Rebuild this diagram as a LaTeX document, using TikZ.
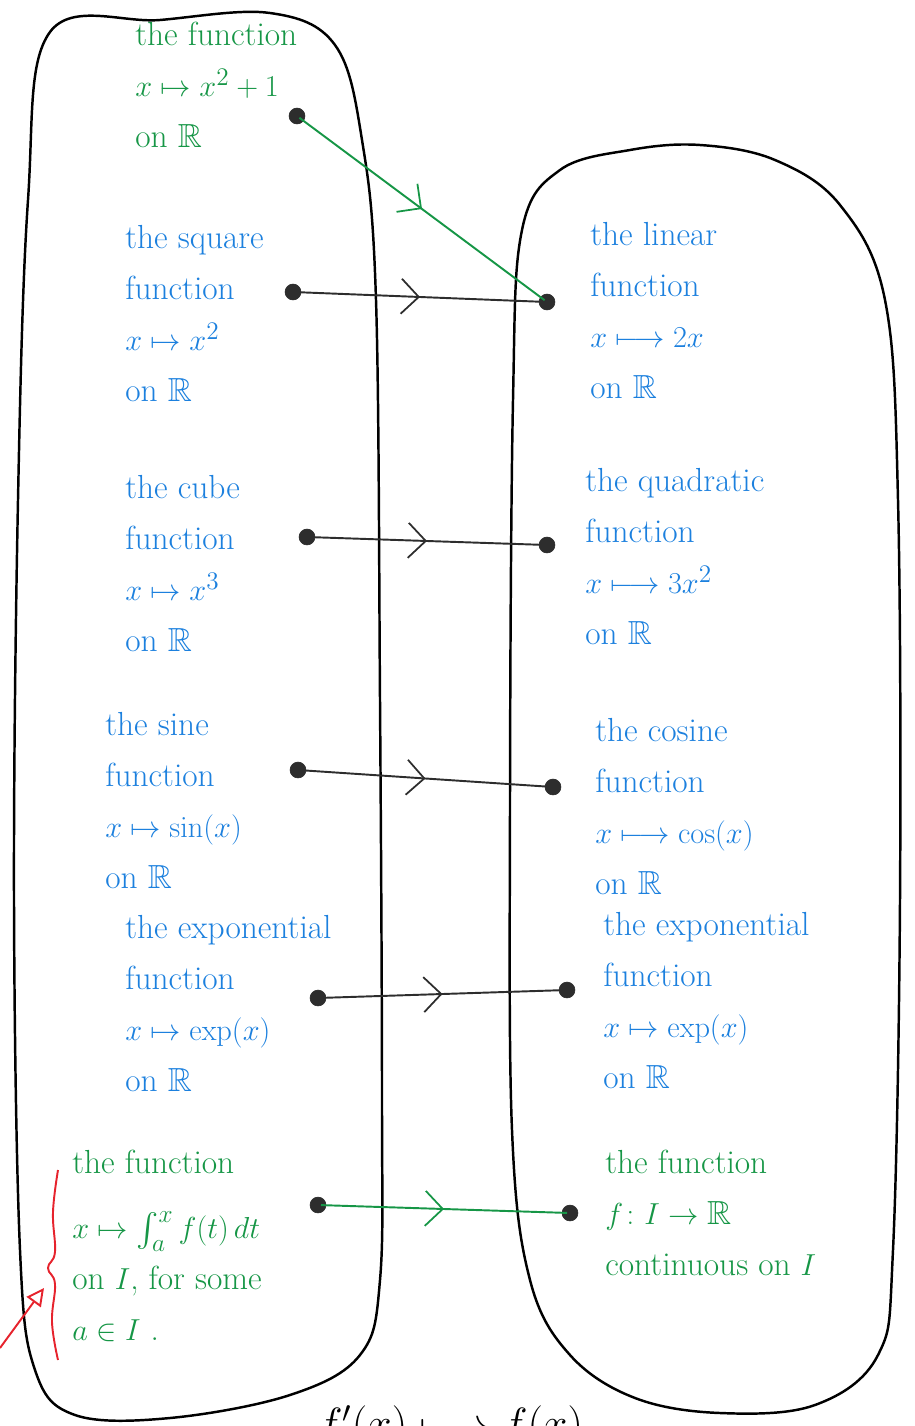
\documentclass[tikz,border=0pt]{standalone}
\usepackage{amsmath,amssymb}
\usepackage{xcolor}
\usetikzlibrary{arrows.meta,decorations.markings}

\definecolor{penGreen}{RGB}{22,150,70}
\definecolor{penBlue}{RGB}{28,128,222}
\definecolor{penRed}{RGB}{230,35,45}
\definecolor{ink}{RGB}{45,45,45}

\tikzset{
  label/.style={anchor=north west, align=left, inner sep=0pt, font=\fontsize{19}{29}\selectfont},
  inkdot/.style={circle, fill=ink, draw=ink, minimum size=9pt, inner sep=0pt},
  midarrow/.style={postaction={decorate}, decoration={markings,
      mark=at position 0.5 with {\arrow{Straight Barb[length=3.5mm,width=7mm,line width=1pt]}}}},
  link/.style={line width=1.1pt, ink, shorten <=-3pt, shorten >=-3pt, midarrow}
}

\begin{document}
\begin{tikzpicture}[x=0.02cm, y=-0.02cm]
  \useasboundingbox (0,0) rectangle (914,1426);

  % the two sets
  \draw[line width=1.4pt] plot[smooth cycle, tension=0.6] coordinates {
    (50,32) (160,20) (270,13) (335,45) (362,140) (376,300) (380,700)
    (382,1100) (380,1280) (360,1355) (290,1395) (170,1418) (75,1415)
    (35,1370) (20,1250) (14,900) (18,500) (28,200)};
  \draw[line width=1.4pt] plot[smooth cycle, tension=0.6] coordinates {
    (522,230) (560,170) (630,150) (700,145) (775,160) (840,205) (885,300) (898,500)
    (900,900) (893,1250) (878,1355) (815,1405) (720,1413) (635,1398)
    (570,1355) (530,1280) (512,1130) (510,800) (513,400)};

  % functions on the left
  \node[label, penGreen] (sqone) at (135,22) {the function\\ $x\mapsto x^2+1$\\ on $\mathbb{R}$};
  \node[label, penBlue] (sq) at (125,225) {the square\\ function\\ $x\mapsto x^2$\\ on $\mathbb{R}$};
  \node[label, penBlue] (cube) at (125,475) {the cube\\ function\\ $x\mapsto x^3$\\ on $\mathbb{R}$};
  \node[label, penBlue] (sine) at (105,712) {the sine\\ function\\ $x\mapsto \sin(x)$\\ on $\mathbb{R}$};
  \node[label, penBlue] (expL) at (125,915) {the exponential\\ function\\ $x\mapsto \exp(x)$\\ on $\mathbb{R}$};
  \node[label, penGreen] (prim) at (72,1150) {the function\\[8pt] $x\mapsto \int_a^x f(t)\,dt$\\ on $I$, for some\\ $a\in I$ .};

  % functions on the right
  \node[label, penBlue] (lin) at (590,222) {the linear\\ function\\ $x\longmapsto 2x$\\ on $\mathbb{R}$};
  \node[label, penBlue] (quad) at (585,468) {the quadratic\\ function\\ $x\longmapsto 3x^2$\\ on $\mathbb{R}$};
  \node[label, penBlue] (cosi) at (595,718) {the cosine\\ function\\ $x\longmapsto \cos(x)$\\ on $\mathbb{R}$};
  \node[label, penBlue] (expR) at (603,912) {the exponential\\ function\\ $x\mapsto \exp(x)$\\ on $\mathbb{R}$};
  \node[label, penGreen] (cont) at (605,1150) {the function\\ $f\colon I\to\mathbb{R}$\\ continuous on $I$};

  % dots
  \node[inkdot] (a1) at (297,116) {};
  \node[inkdot] (a2) at (293,292) {};
  \node[inkdot] (a3) at (307,537) {};
  \node[inkdot] (a4) at (298,770) {};
  \node[inkdot] (a5) at (318,998) {};
  \node[inkdot] (a6) at (318,1205) {};
  \node[inkdot] (b1) at (547,302) {};
  \node[inkdot] (b2) at (547,545) {};
  \node[inkdot] (b3) at (553,787) {};
  \node[inkdot] (b4) at (567,990) {};
  \node[inkdot] (b5) at (570,1213) {};

  % differentiation arrows
  \draw[link, penGreen] (a1) -- (b1);
  \draw[link] (a2) -- (b1);
  \draw[link] (a3) -- (b2);
  \draw[link] (a4) -- (b3);
  \draw[link] (a5) -- (b4);
  \draw[link, penGreen] (a6) -- (b5);

  % red brace and pointer
  \draw[penRed, line width=1.1pt] plot[smooth, tension=0.7] coordinates {
    (58,1170) (53,1212) (55,1252) (48,1268) (55,1284) (52,1322) (58,1360)};
  \coordinate (redtail) at (0,1348);
  \coordinate (redtip) at (44,1288);
  \draw[penRed, line width=1.1pt, -{Triangle[open,length=3.5mm,width=3.5mm]}] (redtail) -- (redtip);

  % caption cut by the page edge
  \node[anchor=north, inner sep=0pt, font=\fontsize{26}{30}\selectfont] (rule) at (450,1405) {$f'(x)\longmapsto f(x)$};
\end{tikzpicture}
\end{document}
